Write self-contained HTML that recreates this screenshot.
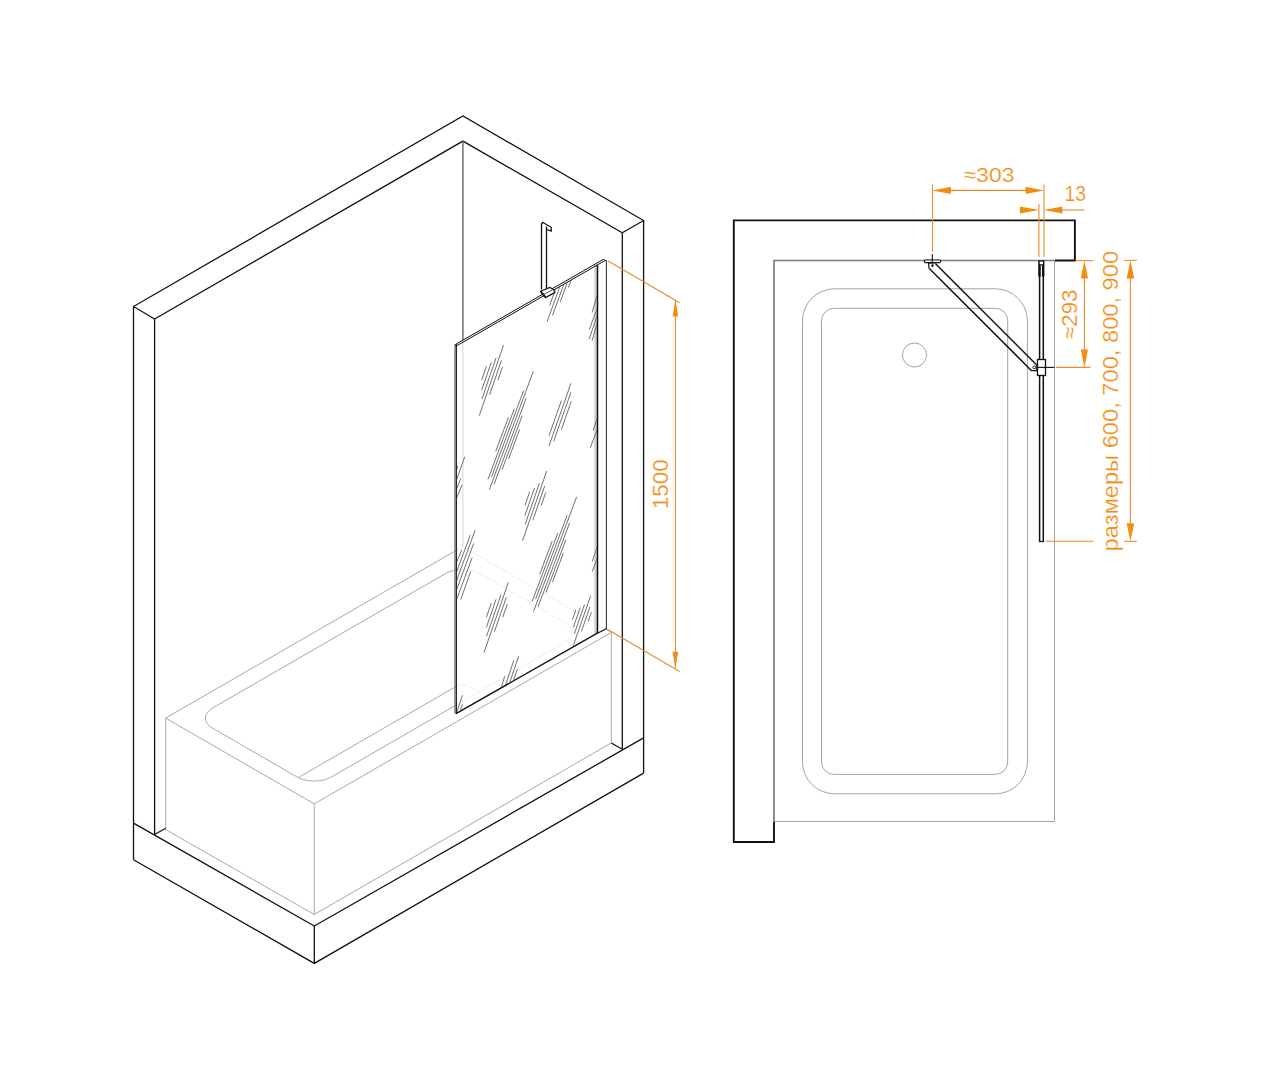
<!DOCTYPE html>
<html><head><meta charset="utf-8"><style>
html,body{margin:0;padding:0;background:#fff;}
svg{display:block;}
text{font-family:"Liberation Sans",sans-serif;}
</style></head><body>
<svg width="1270" height="1080" viewBox="0 0 1270 1080">
<defs><clipPath id="gclip"><polygon points="456.9,345.6 596.8,265.4 596.8,633.2 456.9,712.6"/></clipPath></defs>
<rect x="0" y="0" width="1270" height="1080" fill="#fff"/>
<polyline points="462.74,546.60 165.70,718.10 314.31,803.90 611.34,632.40" stroke="#a9a9a9" stroke-width="1.0" fill="none" stroke-linejoin="miter"/>
<polyline points="611.34,632.40 462.74,546.60" stroke="#a9a9a9" stroke-width="1.0" fill="none" stroke-linejoin="miter"/>
<line x1="165.70" y1="718.10" x2="165.70" y2="829.60" stroke="#a9a9a9" stroke-width="1.0"/>
<line x1="314.31" y1="803.90" x2="314.31" y2="914.50" stroke="#a9a9a9" stroke-width="1.0"/>
<line x1="611.34" y1="632.40" x2="611.34" y2="742.90" stroke="#a9a9a9" stroke-width="1.0"/>
<polyline points="165.70,829.60 314.31,914.50 611.34,742.90" stroke="#a9a9a9" stroke-width="1.0" fill="none" stroke-linejoin="miter"/>
<polygon points="212.46,728.10 209.97,726.41 207.96,724.52 206.49,722.47 205.59,720.31 205.29,718.10 205.59,715.89 206.49,713.73 207.96,711.68 209.97,709.79 212.46,708.10 445.42,573.60 448.34,572.16 451.62,571.00 455.17,570.15 458.91,569.63 462.74,569.46 466.57,569.63 470.31,570.15 473.86,571.00 477.14,572.16 480.06,573.60 564.58,622.40 567.08,624.09 569.08,625.98 570.55,628.03 571.45,630.19 571.75,632.40 571.45,634.61 570.55,636.77 569.08,638.82 567.08,640.71 564.58,642.40 331.63,776.90 328.70,778.34 325.43,779.50 321.87,780.35 318.14,780.87 314.31,781.04 310.47,780.87 306.74,780.35 303.19,779.50 299.91,778.34 296.99,776.90" stroke="#a9a9a9" stroke-width="1.0" fill="none" stroke-linejoin="miter"/>
<polyline points="298.28,777.55 456.68,686.10 457.70,685.60 458.85,685.19 460.09,684.89 461.40,684.71 462.74,684.65 464.08,684.71 465.39,684.89 466.63,685.19 467.78,685.60 468.80,686.10 478.85,691.90" stroke="#a9a9a9" stroke-width="1.0" fill="none" stroke-linejoin="miter"/>
<polyline points="133.50,859.70 133.50,306.50 462.90,116.00 643.60,220.50 643.60,773.10" stroke="#111111" stroke-width="1.3" fill="none" stroke-linejoin="miter"/>
<polyline points="133.50,859.70 314.30,963.40 643.60,773.10" stroke="#111111" stroke-width="1.3" fill="none" stroke-linejoin="miter"/>
<line x1="133.50" y1="823.10" x2="314.30" y2="926.00" stroke="#111111" stroke-width="1.3"/>
<line x1="314.30" y1="926.00" x2="314.30" y2="963.40" stroke="#111111" stroke-width="1.3"/>
<line x1="314.30" y1="926.00" x2="643.60" y2="737.90" stroke="#111111" stroke-width="1.3"/>
<line x1="154.60" y1="319.00" x2="154.60" y2="834.50" stroke="#111111" stroke-width="1.3"/>
<polyline points="154.60,319.00 462.90,141.10 622.30,232.70" stroke="#111111" stroke-width="1.3" fill="none" stroke-linejoin="miter"/>
<line x1="133.50" y1="306.50" x2="154.60" y2="319.00" stroke="#111111" stroke-width="1.3"/>
<line x1="643.60" y1="220.50" x2="622.30" y2="232.70" stroke="#111111" stroke-width="1.3"/>
<line x1="622.30" y1="232.70" x2="622.30" y2="749.20" stroke="#111111" stroke-width="1.3"/>
<line x1="462.90" y1="141.10" x2="462.90" y2="546.60" stroke="#666666" stroke-width="1.4"/>
<line x1="154.60" y1="834.50" x2="165.70" y2="828.20" stroke="#111111" stroke-width="1.2"/>
<line x1="622.30" y1="749.20" x2="611.30" y2="742.90" stroke="#111111" stroke-width="1.2"/>
<polygon points="455.20,344.50 603.30,259.20 606.40,260.50 606.40,628.80 597.40,633.20 455.70,713.50" stroke="none" stroke-width="0" fill="rgba(255,255,255,0.80)" stroke-linejoin="miter"/>
<polygon points="594.20,265.50 597.00,264.00 597.00,633.40 594.20,635.00" stroke="none" stroke-width="0" fill="#d2d2d2" stroke-linejoin="miter"/>
<line x1="454.90" y1="344.50" x2="454.90" y2="713.60" stroke="#8a8a8a" stroke-width="1.4"/>
<line x1="456.30" y1="343.90" x2="456.30" y2="714.00" stroke="#111111" stroke-width="1.25"/>
<line x1="456.00" y1="713.60" x2="597.40" y2="633.20" stroke="#111111" stroke-width="1.35"/>
<line x1="597.50" y1="265.00" x2="597.50" y2="633.40" stroke="#111111" stroke-width="1.5"/>
<line x1="606.40" y1="260.50" x2="606.40" y2="629.00" stroke="#3a3a3a" stroke-width="1.15"/>
<line x1="597.40" y1="633.20" x2="606.40" y2="628.80" stroke="#111111" stroke-width="1.2"/>
<line x1="455.00" y1="344.70" x2="603.30" y2="259.40" stroke="#111111" stroke-width="1.0"/>
<line x1="455.60" y1="346.40" x2="604.90" y2="260.60" stroke="#111111" stroke-width="1.0"/>
<line x1="603.30" y1="259.40" x2="606.60" y2="260.90" stroke="#111111" stroke-width="1.0"/>
<g clip-path="url(#gclip)">
<line x1="508.46" y1="417.23" x2="495.73" y2="451.45" stroke="#606060" stroke-width="0.9"/>
<line x1="514.31" y1="408.67" x2="487.97" y2="479.47" stroke="#606060" stroke-width="0.9"/>
<line x1="523.59" y1="390.62" x2="491.54" y2="476.76" stroke="#606060" stroke-width="0.9"/>
<line x1="533.30" y1="371.40" x2="489.40" y2="489.40" stroke="#606060" stroke-width="0.9"/>
<line x1="526.08" y1="398.27" x2="494.03" y2="484.41" stroke="#606060" stroke-width="0.9"/>
<line x1="522.18" y1="415.62" x2="501.99" y2="469.90" stroke="#606060" stroke-width="0.9"/>
<line x1="519.60" y1="429.44" x2="508.63" y2="458.94" stroke="#606060" stroke-width="0.9"/>
<line x1="552.16" y1="541.20" x2="539.63" y2="574.49" stroke="#606060" stroke-width="0.9"/>
<line x1="557.95" y1="532.89" x2="532.03" y2="601.77" stroke="#606060" stroke-width="0.9"/>
<line x1="567.11" y1="515.37" x2="535.57" y2="599.17" stroke="#606060" stroke-width="0.9"/>
<line x1="576.70" y1="496.70" x2="533.50" y2="611.50" stroke="#606060" stroke-width="0.9"/>
<line x1="569.63" y1="522.87" x2="538.09" y2="606.68" stroke="#606060" stroke-width="0.9"/>
<line x1="565.83" y1="539.79" x2="545.96" y2="592.60" stroke="#606060" stroke-width="0.9"/>
<line x1="563.32" y1="553.26" x2="552.52" y2="581.96" stroke="#606060" stroke-width="0.9"/>
<line x1="486.48" y1="366.11" x2="481.64" y2="380.19" stroke="#606060" stroke-width="0.9"/>
<line x1="491.29" y1="362.26" x2="481.61" y2="390.42" stroke="#606060" stroke-width="0.9"/>
<line x1="496.16" y1="357.63" x2="481.88" y2="399.17" stroke="#606060" stroke-width="0.9"/>
<line x1="503.50" y1="345.20" x2="479.30" y2="415.60" stroke="#606060" stroke-width="0.9"/>
<line x1="501.50" y1="360.26" x2="489.64" y2="394.75" stroke="#606060" stroke-width="0.9"/>
<line x1="502.49" y1="366.89" x2="497.89" y2="380.27" stroke="#606060" stroke-width="0.9"/>
<line x1="529.72" y1="491.62" x2="524.90" y2="505.54" stroke="#606060" stroke-width="0.9"/>
<line x1="534.52" y1="487.83" x2="524.88" y2="515.67" stroke="#606060" stroke-width="0.9"/>
<line x1="539.38" y1="483.28" x2="525.16" y2="524.34" stroke="#606060" stroke-width="0.9"/>
<line x1="546.70" y1="471.00" x2="522.60" y2="540.60" stroke="#606060" stroke-width="0.9"/>
<line x1="544.71" y1="485.90" x2="532.91" y2="520.01" stroke="#606060" stroke-width="0.9"/>
<line x1="545.72" y1="492.48" x2="541.14" y2="505.71" stroke="#606060" stroke-width="0.9"/>
<line x1="491.32" y1="603.11" x2="486.44" y2="617.15" stroke="#606060" stroke-width="0.9"/>
<line x1="496.14" y1="599.28" x2="486.38" y2="627.36" stroke="#606060" stroke-width="0.9"/>
<line x1="501.02" y1="594.69" x2="486.63" y2="636.10" stroke="#606060" stroke-width="0.9"/>
<line x1="508.40" y1="582.30" x2="484.00" y2="652.50" stroke="#606060" stroke-width="0.9"/>
<line x1="506.35" y1="597.32" x2="494.40" y2="631.72" stroke="#606060" stroke-width="0.9"/>
<line x1="507.33" y1="603.96" x2="502.69" y2="617.30" stroke="#606060" stroke-width="0.9"/>
<line x1="575.87" y1="609.92" x2="572.43" y2="619.84" stroke="#606060" stroke-width="0.9"/>
<line x1="580.19" y1="607.53" x2="573.31" y2="627.37" stroke="#606060" stroke-width="0.9"/>
<line x1="584.49" y1="604.57" x2="574.34" y2="633.84" stroke="#606060" stroke-width="0.9"/>
<line x1="590.50" y1="596.10" x2="573.30" y2="645.70" stroke="#606060" stroke-width="0.9"/>
<line x1="589.89" y1="607.00" x2="581.47" y2="631.31" stroke="#606060" stroke-width="0.9"/>
<line x1="591.45" y1="611.99" x2="588.18" y2="621.41" stroke="#606060" stroke-width="0.9"/>
<line x1="572.00" y1="278.50" x2="568.30" y2="287.50" stroke="#606060" stroke-width="0.9"/>
<line x1="568.00" y1="280.50" x2="560.40" y2="301.70" stroke="#606060" stroke-width="0.9"/>
<line x1="564.60" y1="282.30" x2="552.50" y2="315.40" stroke="#606060" stroke-width="0.9"/>
<line x1="560.50" y1="284.80" x2="547.10" y2="321.70" stroke="#606060" stroke-width="0.9"/>
<line x1="556.30" y1="287.50" x2="549.60" y2="305.40" stroke="#606060" stroke-width="0.9"/>
<line x1="598.50" y1="291.00" x2="592.10" y2="312.50" stroke="#606060" stroke-width="0.9"/>
<line x1="598.50" y1="305.00" x2="589.20" y2="329.60" stroke="#606060" stroke-width="0.9"/>
<line x1="598.50" y1="311.50" x2="589.20" y2="339.20" stroke="#606060" stroke-width="0.9"/>
<line x1="598.50" y1="318.50" x2="592.10" y2="340.80" stroke="#606060" stroke-width="0.9"/>
<line x1="561.40" y1="400.60" x2="549.00" y2="435.80" stroke="#606060" stroke-width="0.9"/>
<line x1="570.90" y1="383.40" x2="549.00" y2="446.00" stroke="#606060" stroke-width="0.9"/>
<line x1="570.90" y1="392.50" x2="553.60" y2="441.40" stroke="#606060" stroke-width="0.9"/>
<line x1="571.20" y1="401.30" x2="561.40" y2="429.50" stroke="#606060" stroke-width="0.9"/>
<line x1="598.00" y1="416.00" x2="593.10" y2="430.60" stroke="#606060" stroke-width="0.9"/>
<line x1="598.00" y1="427.00" x2="590.30" y2="447.80" stroke="#606060" stroke-width="0.9"/>
<line x1="598.00" y1="544.50" x2="592.20" y2="561.70" stroke="#606060" stroke-width="0.9"/>
<line x1="598.00" y1="555.50" x2="592.20" y2="571.70" stroke="#606060" stroke-width="0.9"/>
<line x1="464.80" y1="456.70" x2="455.00" y2="484.00" stroke="#606060" stroke-width="0.9"/>
<line x1="460.90" y1="478.30" x2="455.00" y2="493.00" stroke="#606060" stroke-width="0.9"/>
<line x1="462.00" y1="485.00" x2="455.00" y2="502.00" stroke="#606060" stroke-width="0.9"/>
<line x1="458.00" y1="466.00" x2="455.50" y2="473.00" stroke="#606060" stroke-width="0.9"/>
<line x1="461.80" y1="549.90" x2="455.00" y2="566.00" stroke="#606060" stroke-width="0.9"/>
<line x1="470.30" y1="535.10" x2="455.00" y2="576.00" stroke="#606060" stroke-width="0.9"/>
<line x1="475.10" y1="530.30" x2="455.00" y2="585.00" stroke="#606060" stroke-width="0.9"/>
<line x1="473.60" y1="543.60" x2="455.00" y2="594.00" stroke="#606060" stroke-width="0.9"/>
<line x1="472.10" y1="557.70" x2="455.00" y2="604.00" stroke="#606060" stroke-width="0.9"/>
<line x1="470.70" y1="571.40" x2="460.70" y2="599.60" stroke="#606060" stroke-width="0.9"/>
<line x1="504.70" y1="676.40" x2="500.50" y2="690.00" stroke="#606060" stroke-width="0.9"/>
<line x1="513.80" y1="660.40" x2="504.50" y2="688.00" stroke="#606060" stroke-width="0.9"/>
<line x1="518.60" y1="656.20" x2="508.50" y2="686.00" stroke="#606060" stroke-width="0.9"/>
<line x1="517.50" y1="669.00" x2="512.50" y2="683.00" stroke="#606060" stroke-width="0.9"/>
<line x1="462.50" y1="695.20" x2="456.50" y2="713.00" stroke="#606060" stroke-width="0.9"/>
<line x1="462.50" y1="704.30" x2="459.80" y2="712.00" stroke="#606060" stroke-width="0.9"/>
</g>
<line x1="541.50" y1="223.50" x2="541.50" y2="289.50" stroke="#111111" stroke-width="1.3"/>
<line x1="546.50" y1="226.50" x2="546.50" y2="288.50" stroke="#111111" stroke-width="1.3"/>
<path d="M541.3,224.5 L542.6,222.3 L551.2,227.3 L551.2,231.0 L547.2,229.6" stroke="#111111" stroke-width="1.3" fill="none"/>
<polygon points="540.60,291.20 549.80,287.40 553.60,289.40 544.30,294.60" stroke="#111111" stroke-width="1.2" fill="#fff" stroke-linejoin="miter"/>
<polyline points="544.30,294.60 545.50,297.60 554.70,292.60 553.60,289.40" stroke="#111111" stroke-width="1.2" fill="#fff" stroke-linejoin="miter"/>
<polyline points="540.60,291.20 541.80,294.00 545.50,297.60" stroke="#111111" stroke-width="1.2" fill="none" stroke-linejoin="miter"/>
<line x1="608.10" y1="261.10" x2="679.60" y2="302.80" stroke="#e98b2e" stroke-width="1.1"/>
<line x1="607.20" y1="629.30" x2="679.60" y2="671.40" stroke="#e98b2e" stroke-width="1.1"/>
<line x1="675.40" y1="300.00" x2="675.40" y2="668.30" stroke="#e98b2e" stroke-width="1.1"/>
<polygon points="675.40,300.00 678.20,316.50 672.60,316.50" fill="#f28c12"/>
<polygon points="675.40,668.30 672.60,651.80 678.20,651.80" fill="#f28c12"/>
<polyline points="774.00,821.50 1054.50,821.50 1054.50,260.50" stroke="#a3a3a3" stroke-width="1.0" fill="none" stroke-linejoin="miter"/>
<rect x="802.50" y="288.80" width="224.90" height="505.00" rx="32" ry="32" fill="none" stroke="#a3a3a3" stroke-width="1.0"/>
<rect x="821.50" y="308.30" width="186.20" height="466.10" rx="12.5" ry="12.5" fill="none" stroke="#a3a3a3" stroke-width="1.0"/>
<circle cx="914.5" cy="355" r="12" fill="none" stroke="#a3a3a3" stroke-width="1.0"/>
<path d="M1055,260.5 L1074.9,260.5 L1074.9,220.4 L733.8,220.4 L733.8,842 L774,842 L774,821.5" stroke="#111111" stroke-width="1.9" fill="none"/>
<path d="M1055,260.5 L774,260.5 L774,821.5" stroke="#7c7c7c" stroke-width="1.7" fill="none"/>
<rect x="924.3" y="260.0" width="16.4" height="2.6" rx="1.2" fill="#fff" stroke="#111111" stroke-width="1.1"/>
<line x1="932.30" y1="254.00" x2="932.30" y2="263.00" stroke="#111111" stroke-width="1.1"/>
<line x1="935.30" y1="263.40" x2="1036.70" y2="364.90" stroke="#111111" stroke-width="1.45"/>
<line x1="929.30" y1="268.40" x2="1031.30" y2="370.40" stroke="#111111" stroke-width="1.45"/>
<path d="M929.0,268.6 L928.6,263.2 L934.5,263.0" stroke="#111111" stroke-width="1.2" fill="none"/>
<circle cx="932.5" cy="265.6" r="1.3" fill="#111111"/>
<path d="M1031.0,370.6 L1036.8,370.6 L1036.8,365.0" stroke="#111111" stroke-width="1.2" fill="none"/>
<circle cx="1034.3" cy="367.4" r="1.4" fill="none" stroke="#111111" stroke-width="1"/>
<line x1="1039.60" y1="276.00" x2="1039.60" y2="541.60" stroke="#111111" stroke-width="1.5"/>
<line x1="1043.30" y1="276.00" x2="1043.30" y2="541.60" stroke="#111111" stroke-width="1.5"/>
<line x1="1039.00" y1="541.50" x2="1043.90" y2="541.50" stroke="#111111" stroke-width="1.3"/>
<rect x="1038.2" y="260.3" width="6.2" height="16.2" fill="#111111"/>
<rect x="1039.7" y="261.6" width="3.3" height="2.6" fill="#fff"/>
<line x1="1041.40" y1="265.30" x2="1041.40" y2="276.60" stroke="#fff" stroke-width="1.2"/>
<rect x="1037.5" y="359.5" width="8.0" height="16.0" fill="#fff" stroke="#111111" stroke-width="1.3"/>
<line x1="1037.50" y1="367.40" x2="1054.50" y2="367.40" stroke="#111111" stroke-width="1.1"/>
<line x1="932.50" y1="184.80" x2="932.50" y2="251.60" stroke="#e98b2e" stroke-width="1.1"/>
<line x1="1044.00" y1="184.80" x2="1044.00" y2="257.00" stroke="#e98b2e" stroke-width="1.1"/>
<line x1="1038.90" y1="203.90" x2="1038.90" y2="257.00" stroke="#e98b2e" stroke-width="1.1"/>
<line x1="940.00" y1="190.40" x2="1036.00" y2="190.40" stroke="#e98b2e" stroke-width="1.1"/>
<polygon points="932.50,190.40 950.90,186.80 950.90,194.00" fill="#f28c12"/>
<polygon points="1044.00,190.40 1025.60,194.00 1025.60,186.80" fill="#f28c12"/>
<polygon points="1038.90,210.00 1020.00,213.60 1020.00,206.40" fill="#f28c12"/>
<polygon points="1044.00,210.00 1062.40,206.40 1062.40,213.60" fill="#f28c12"/>
<line x1="1055.00" y1="210.00" x2="1084.40" y2="210.00" stroke="#e98b2e" stroke-width="1.1"/>
<line x1="1075.60" y1="260.60" x2="1093.30" y2="260.60" stroke="#e98b2e" stroke-width="1.1"/>
<line x1="1056.00" y1="367.40" x2="1090.40" y2="367.40" stroke="#e98b2e" stroke-width="1.1"/>
<line x1="1084.40" y1="270.00" x2="1084.40" y2="358.00" stroke="#e98b2e" stroke-width="1.1"/>
<polygon points="1084.40,260.60 1088.00,278.60 1080.80,278.60" fill="#f28c12"/>
<polygon points="1084.40,367.40 1080.80,349.40 1088.00,349.40" fill="#f28c12"/>
<line x1="1124.20" y1="260.40" x2="1136.80" y2="260.40" stroke="#e98b2e" stroke-width="1.1"/>
<line x1="1124.20" y1="541.30" x2="1136.80" y2="541.30" stroke="#e98b2e" stroke-width="1.1"/>
<line x1="1045.50" y1="541.30" x2="1093.50" y2="541.30" stroke="#e98b2e" stroke-width="1.1"/>
<line x1="1130.40" y1="270.00" x2="1130.40" y2="532.00" stroke="#e98b2e" stroke-width="1.1"/>
<polygon points="1130.40,260.40 1134.15,278.40 1126.65,278.40" fill="#f28c12"/>
<polygon points="1130.40,541.30 1126.65,523.30 1134.15,523.30" fill="#f28c12"/>
<text x="963.5" y="182.3" font-size="20.8" textLength="51" lengthAdjust="spacingAndGlyphs" fill="#f28c12" stroke="#fff" stroke-width="0.22">≈303</text>
<text x="1064.5" y="201.3" font-size="21.5" textLength="21.5" lengthAdjust="spacingAndGlyphs" fill="#f28c12" stroke="#fff" stroke-width="0.22">13</text>
<text transform="translate(1077.4,339.0) rotate(-90)" x="0" y="0" font-size="21.5" textLength="49.5" lengthAdjust="spacingAndGlyphs" fill="#f28c12" stroke="#fff" stroke-width="0.22">≈293</text>
<text transform="translate(668.4,509.2) rotate(-90)" x="0" y="0" font-size="22.2" textLength="50" lengthAdjust="spacingAndGlyphs" fill="#f28c12" stroke="#fff" stroke-width="0.22">1500</text>
<text transform="translate(1118.3,551.4) rotate(-90)" x="0" y="0" font-size="21.5" textLength="300.5" lengthAdjust="spacingAndGlyphs" fill="#f28c12" stroke="#fff" stroke-width="0.22">размеры 600, 700, 800, 900</text>
</svg>
</body></html>
